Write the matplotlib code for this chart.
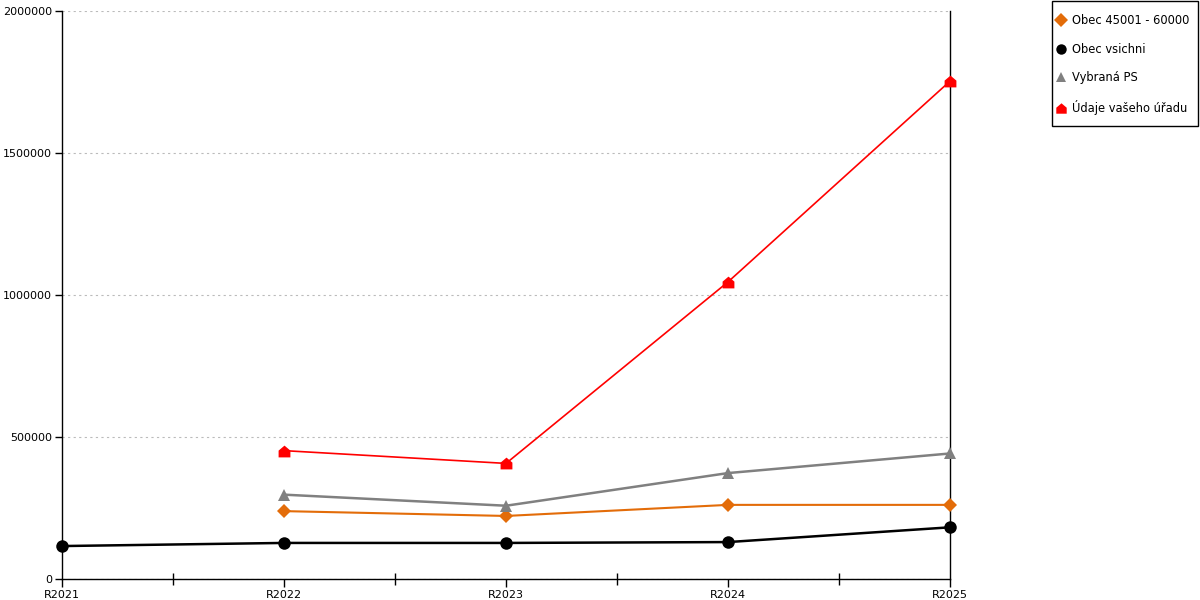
import matplotlib
matplotlib.use("Agg")
import matplotlib.pyplot as plt
from matplotlib.path import Path
from matplotlib.patches import Rectangle
import numpy as np

categories = ["R2021", "R2022", "R2023", "R2024", "R2025"]
obec_45001 = [None, 239000, 222000, 261000, 261000]
obec_vsichni = [116000, 127000, 127000, 130000, 182000]
vybrana_ps = [None, 297000, 258000, 373000, 442000]
udaje_uradu = [None, 452000, 407000, 1046000, 1753000]
yticks = [0, 500000, 1000000, 1500000, 2000000]

house = Path([(-1, -1), (1, -1), (1, 0.15), (0, 1), (-1, 0.15), (-1, -1)],
             [Path.MOVETO, Path.LINETO, Path.LINETO, Path.LINETO, Path.LINETO, Path.CLOSEPOLY])

plt.rcParams['font.family'] = ['DejaVu Sans']
fig = plt.figure(figsize=(12, 6), dpi=100)
ax = fig.add_axes([62/1200, 1-579/600, (950-62)/1200, (579-11)/600])

x = np.arange(len(categories))

def to_arr(v):
    return np.array([np.nan if a is None else a for a in v], dtype=float)

series = [
    ("Obec 45001 - 60000", obec_45001, "#e36c09", "D", 7, 1.5),
    ("Obec vsichni", obec_vsichni, "#000000", "o", 9, 1.8),
    ("Vybraná PS", vybrana_ps, "#808080", "^", 9, 1.8),
    ("Údaje vašeho úřadu", udaje_uradu, "#ff0000", house, 8.5, 1.2),
]
handles = []
for name, vals, col, mk, ms, lw in series:
    h, = ax.plot(x, to_arr(vals), color=col, marker=mk, markersize=ms,
                 linewidth=lw, label=name, markeredgewidth=0, zorder=3, clip_on=False)
    handles.append(h)

ax.set_xlim(0, len(categories) - 1)
ax.set_ylim(0, 2000000)
ax.set_xticks(x)
ax.set_xticklabels(categories, fontsize=8)
ax.set_xticks(x[:-1] + 0.5, minor=True)
ax.set_yticks(yticks)
ax.set_yticklabels([str(v) for v in yticks], fontsize=8)
ax.tick_params(axis='x', which='major', direction='out', length=6, width=1, pad=2)
ax.tick_params(axis='x', which='minor', direction='inout', length=8, width=1)
ax.tick_params(axis='y', direction='out', length=5, width=1, pad=2)

ax.grid(axis='y', color='#bbbbbb', linestyle=(0, (2, 3)), linewidth=0.8)
ax.set_axisbelow(True)
ax.spines['top'].set_visible(False)
for s in ['left', 'bottom', 'right']:
    ax.spines[s].set_color('black')
    ax.spines[s].set_linewidth(1)

# legend frame
fig.patches.append(Rectangle((1052/1200, 1-126/600), 146/1200, 125/600,
                             transform=fig.transFigure, fill=False,
                             edgecolor='black', linewidth=1))
leg = fig.legend(handles=[plt.Line2D([], [], color=h.get_color(), marker=h.get_marker(),
                                     linestyle='none', markersize=7.5, markeredgewidth=0)
                          for h in handles],
                 labels=[s[0] for s in series],
                 loc='upper left', bbox_to_anchor=(1058/1200, 1-14/600),
                 fontsize=8.3, frameon=False,
                 handlelength=0.6, handletextpad=0.58, labelspacing=1.35,
                 borderpad=0, borderaxespad=0)

fig.savefig("out.png", dpi=100)
